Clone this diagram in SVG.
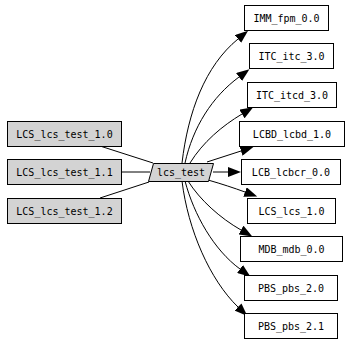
<svg xmlns="http://www.w3.org/2000/svg" width="349" height="344" viewBox="0 0 349 344">
<style>
.box{fill:#ffffff;stroke:#000;stroke-width:1}
.gray{fill:#d3d3d3;stroke:#000;stroke-width:1}
text{font-family:"DejaVu Sans Mono","Liberation Mono",monospace;font-size:10px;text-anchor:middle;fill:#000}
.e{fill:none;stroke:#000;stroke-width:1}
</style>
<defs>
<marker id="ah" markerUnits="userSpaceOnUse" markerWidth="14" markerHeight="10" refX="0" refY="5" orient="auto">
<path d="M0,0 L13,5 L0,10 z" fill="#000"/>
</marker>
</defs>
<rect width="349" height="344" fill="#fff"/>
<g id="connectors">
<path class="e" d="M100,146 L153,163"/>
<path class="e" d="M121,172 L150,172"/>
<path class="e" d="M100,198 L149,182"/>
<path class="e" marker-end="url(#ah)" d="M182,163 C188,112 205,66 238,39"/>
<path class="e" marker-end="url(#ah)" d="M185,163 C193,127 212,97 239,77"/>
<path class="e" marker-end="url(#ah)" d="M190,163 C203,142 222,126 242,114"/>
<path class="e" marker-end="url(#ah)" d="M207,162 L241,151"/>
<path class="e" marker-end="url(#ah)" d="M213,172 L228,172"/>
<path class="e" marker-end="url(#ah)" d="M208,180 C222,184 234,188 245,192"/>
<path class="e" marker-end="url(#ah)" d="M188,181 C200,200 220,218 241,230"/>
<path class="e" marker-end="url(#ah)" d="M185,181 C194,215 214,250 240,269"/>
<path class="e" marker-end="url(#ah)" d="M182,181 C188,230 210,280 238,307"/>
</g>
<g id="LCS_lcs_test_1.0"><rect class="gray" x="7.5" y="121.5" width="114" height="25"/><text x="64.5" y="137.5">LCS_lcs_test_1.0</text></g>
<g id="LCS_lcs_test_1.1"><rect class="gray" x="7.5" y="159.5" width="114" height="25"/><text x="64.5" y="175.5">LCS_lcs_test_1.1</text></g>
<g id="LCS_lcs_test_1.2"><rect class="gray" x="7.5" y="198.5" width="114" height="25"/><text x="64.5" y="214.5">LCS_lcs_test_1.2</text></g>
<g id="lcs_test"><polygon class="gray" points="153.5,163.5 213.5,163.5 208.5,181.5 148.5,181.5"/><text x="181" y="176">lcs_test</text></g>
<g id="IMM_fpm_0.0"><rect class="box" x="244.5" y="5.5" width="84" height="25"/><text x="286.5" y="21.5">IMM_fpm_0.0</text></g>
<g id="ITC_itc_3.0"><rect class="box" x="249.5" y="43.5" width="84" height="25"/><text x="291.5" y="59.5">ITC_itc_3.0</text></g>
<g id="ITC_itcd_3.0"><rect class="box" x="247.5" y="82.5" width="89" height="25"/><text x="292" y="98.5">ITC_itcd_3.0</text></g>
<g id="LCBD_lcbd_1.0"><rect class="box" x="239.5" y="121.5" width="105" height="25"/><text x="292" y="137.5">LCBD_lcbd_1.0</text></g>
<g id="LCB_lcbcr_0.0"><rect class="box" x="241.5" y="159.5" width="99" height="25"/><text x="291" y="175.5">LCB_lcbcr_0.0</text></g>
<g id="LCS_lcs_1.0"><rect class="box" x="247.5" y="198.5" width="88" height="25"/><text x="291.5" y="214.5">LCS_lcs_1.0</text></g>
<g id="MDB_mdb_0.0"><rect class="box" x="240.5" y="236.5" width="102" height="25"/><text x="291.5" y="252.5">MDB_mdb_0.0</text></g>
<g id="PBS_pbs_2.0"><rect class="box" x="244.5" y="275.5" width="93" height="25"/><text x="291" y="291.5">PBS_pbs_2.0</text></g>
<g id="PBS_pbs_2.1"><rect class="box" x="244.5" y="313.5" width="93" height="25"/><text x="291" y="329.5">PBS_pbs_2.1</text></g>
</svg>
